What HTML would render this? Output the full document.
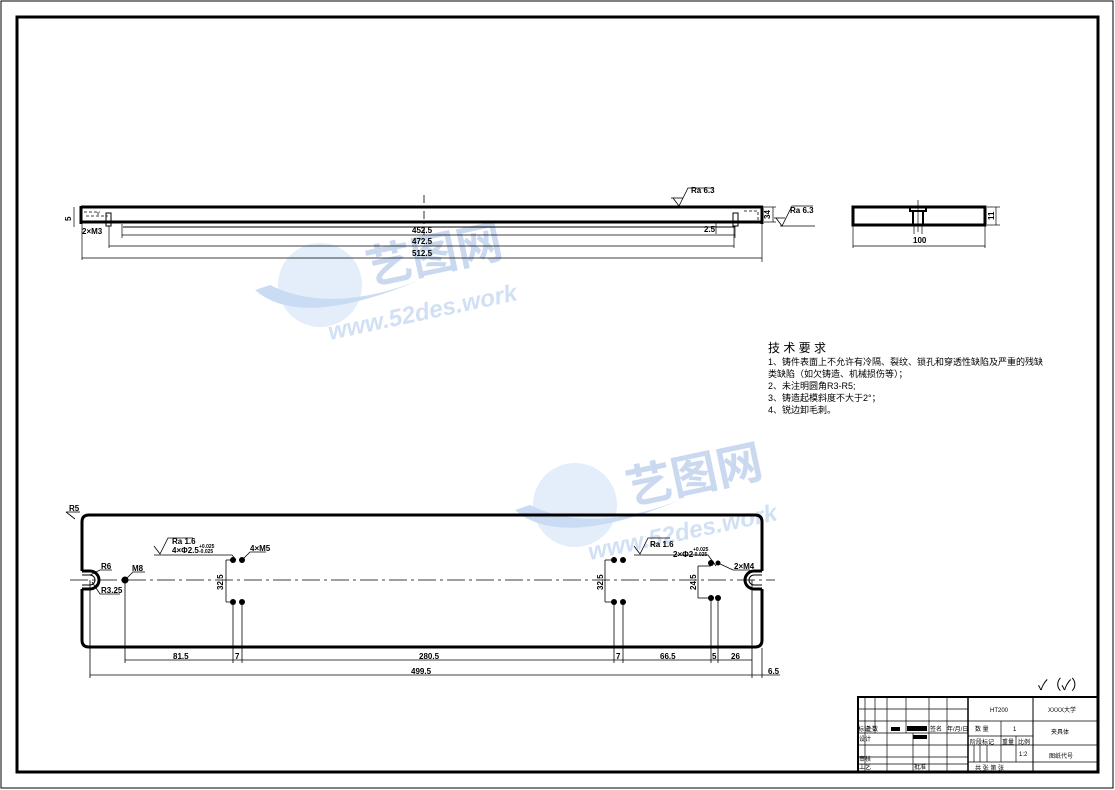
<!DOCTYPE html>
<html><head><meta charset="utf-8"><style>
html,body{margin:0;padding:0;background:#fff}
svg{display:block}
text{font-family:"Liberation Sans","Noto Sans CJK SC",sans-serif;fill:#000}
</style></head><body>
<svg width="1115" height="790" viewBox="0 0 1115 790" xmlns="http://www.w3.org/2000/svg">
<rect x="1" y="1" width="1112" height="787" fill="none" stroke="#000" stroke-width="1"/>
<rect x="17" y="17" width="1081" height="755" fill="none" stroke="#000" stroke-width="3"/>

<!-- watermarks -->
<g opacity="0.4">
<ellipse cx="320" cy="285" rx="42" ry="42" fill="#b8d4f2"/>
<path d="M255 290 Q300 330 420 280 Q330 315 270 285Z" fill="#7aa9e0"/>
<text x="370" y="285" font-size="46" font-weight="bold" style="fill:#7aa0d8" transform="rotate(-12 370 285)">艺图网</text>
<text x="330" y="340" font-size="24" font-weight="bold" font-style="italic" style="fill:#8cb2e4" transform="rotate(-12 330 340)">www.52des.work</text>
<ellipse cx="575" cy="505" rx="42" ry="42" fill="#b8d4f2"/>
<path d="M515 510 Q560 550 680 500 Q590 535 530 505Z" fill="#7aa9e0"/>
<text x="630" y="505" font-size="46" font-weight="bold" style="fill:#7aa0d8" transform="rotate(-12 630 505)">艺图网</text>
<text x="590" y="560" font-size="24" font-weight="bold" font-style="italic" style="fill:#8cb2e4" transform="rotate(-12 590 560)">www.52des.work</text>
</g>

<!-- TOP VIEW -->
<g stroke="#000" fill="none">
<line x1="81" y1="207" x2="763" y2="207" stroke-width="3"/>
<line x1="81" y1="206" x2="81" y2="224" stroke-width="3"/>
<line x1="762" y1="206" x2="762" y2="224" stroke-width="3"/>
<line x1="81" y1="222" x2="763" y2="222" stroke-width="3"/>
<line x1="123" y1="227" x2="735" y2="227" stroke-width="1"/>
<line x1="424" y1="195" x2="424" y2="238" stroke-width="0.8" stroke-dasharray="8 3 2 3"/>
<path d="M84 212 H100 M98 212 V216 M86 216 H108" stroke-width="0.8" stroke-dasharray="3 2"/>
<rect x="106" y="213" width="5" height="13" stroke-width="1"/>
<rect x="733" y="213" width="5" height="13" stroke-width="1"/>
<path d="M744 211 H758 V221 H744" stroke-width="0.8" stroke-dasharray="3 2"/>
<line x1="122" y1="235" x2="735" y2="235" stroke-width="0.7"/>
<line x1="109" y1="246" x2="734" y2="246" stroke-width="0.7"/>
<line x1="82" y1="258" x2="762" y2="258" stroke-width="0.7"/>
<line x1="122" y1="224" x2="122" y2="238" stroke-width="0.7"/>
<line x1="109" y1="226" x2="109" y2="248" stroke-width="0.7"/>
<line x1="82" y1="224" x2="82" y2="260" stroke-width="0.7"/>
<line x1="735" y1="226" x2="735" y2="238" stroke-width="0.7"/>
<line x1="734" y1="226" x2="734" y2="248" stroke-width="0.7"/>
<line x1="762" y1="224" x2="762" y2="262" stroke-width="0.7"/>
<line x1="74" y1="207" x2="74" y2="227" stroke-width="0.7"/>
<line x1="764" y1="207" x2="776" y2="207" stroke-width="0.7"/>
<line x1="764" y1="222" x2="776" y2="222" stroke-width="0.7"/>
<line x1="773" y1="207" x2="773" y2="222" stroke-width="0.7"/>
<line x1="700" y1="222" x2="718" y2="222" stroke-width="0.7"/>
<line x1="716" y1="222" x2="716" y2="234" stroke-width="0.7"/>
<path d="M673 198 L679 206 L688 188 H714" stroke-width="0.8"/>
<line x1="671" y1="198" x2="683" y2="198" stroke-width="0.8"/>
<path d="M776 218 L782 226 L792 206 H813" stroke-width="0.8"/>
<line x1="774" y1="218" x2="785" y2="218" stroke-width="0.8"/>
<line x1="780" y1="226" x2="815" y2="226" stroke-width="0.8"/>
</g>
<g font-size="8" font-weight="bold">
<text x="82" y="234">2×M3</text>
<text x="412" y="233">452.5</text>
<text x="412" y="244">472.5</text>
<text x="412" y="256">512.5</text>
<text x="704" y="232">2.5</text>
<text x="691" y="193">Ra 6.3</text>
<text x="790" y="213">Ra 6.3</text>
<text x="71" y="221" transform="rotate(-90 71 221)">5</text>
<text x="770" y="219" transform="rotate(-90 770 219)">34</text>
</g>

<!-- SIDE VIEW -->
<g stroke="#000" fill="none">
<rect x="853" y="207" width="132" height="18" stroke-width="3"/>
<rect x="910" y="207" width="16" height="4" stroke-width="2"/>
<rect x="913" y="211" width="10" height="14" stroke-width="2"/>
<line x1="918" y1="200" x2="918" y2="232" stroke-width="0.7"/>
<line x1="914" y1="226" x2="914" y2="234" stroke-width="0.7"/>
<line x1="922" y1="226" x2="922" y2="234" stroke-width="0.7"/>
<line x1="853" y1="226" x2="853" y2="248" stroke-width="0.7"/>
<line x1="985" y1="226" x2="985" y2="248" stroke-width="0.7"/>
<line x1="853" y1="246" x2="985" y2="246" stroke-width="0.7"/>
<line x1="987" y1="207" x2="1000" y2="207" stroke-width="0.7"/>
<line x1="987" y1="225" x2="1000" y2="225" stroke-width="0.7"/>
<line x1="996" y1="207" x2="996" y2="225" stroke-width="0.7"/>
</g>
<text x="913" y="243" font-size="8" font-weight="bold">100</text>
<text x="994" y="220" font-size="8" font-weight="bold" transform="rotate(-90 994 220)">11</text>

<!-- tech requirements -->
<g font-family="Liberation Sans, Noto Serif CJK SC, serif">
<text x="768" y="352" font-size="12">技 术 要 求</text>
<text x="768" y="365" font-size="9">1、铸件表面上不允许有冷隔、裂纹、锁孔和穿透性缺陷及严重的残缺</text>
<text x="768" y="377" font-size="9">类缺陷（如欠铸造、机械损伤等）；</text>
<text x="768" y="389" font-size="9">2、未注明圆角R3-R5;</text>
<text x="768" y="401" font-size="9">3、铸造起模斜度不大于2°；</text>
<text x="768" y="413" font-size="9">4、锐边卸毛刺。</text>
</g>

<!-- BOTTOM PLATE -->
<g stroke="#000" fill="none">
<path d="M89 515 H755 Q762 515 762 522 V571 M762 589 V640 Q762 647 755 647 H89 Q82 647 82 640 V589 M82 571 V522 Q82 515 89 515" stroke-width="3"/>
<path d="M82 571 H90 A9 9 0 0 1 90 589 H82" stroke-width="3"/>
<path d="M82 575 H90 A5 5 0 0 1 90 585 H82" stroke-width="1"/>
<path d="M762 571 H754 A9 9 0 0 0 754 589 H762" stroke-width="3"/>
<path d="M762 575 H754 A5 5 0 0 0 754 585 H762" stroke-width="1"/>
<line x1="70" y1="580" x2="775" y2="580" stroke-width="0.8" stroke-dasharray="18 4 3 4"/>
<g stroke-width="0.8">
<line x1="125" y1="580" x2="125" y2="663"/>
<line x1="233" y1="602" x2="233" y2="663"/>
<line x1="242" y1="602" x2="242" y2="663"/>
<line x1="614" y1="602" x2="614" y2="663"/>
<line x1="623" y1="602" x2="623" y2="663"/>
<line x1="711" y1="598" x2="711" y2="663"/>
<line x1="718" y1="598" x2="718" y2="663"/>
<line x1="752" y1="580" x2="752" y2="678"/>
<line x1="762" y1="648" x2="762" y2="678"/>
<line x1="90" y1="580" x2="90" y2="678"/>
<line x1="125" y1="660" x2="752" y2="660"/>
<line x1="90" y1="675" x2="752" y2="675"/>
<line x1="752" y1="675" x2="780" y2="675"/>
<line x1="226" y1="560" x2="226" y2="602"/>
<line x1="226" y1="560" x2="233" y2="560"/>
<line x1="226" y1="602" x2="233" y2="602"/>
<line x1="605" y1="560" x2="605" y2="602"/>
<line x1="605" y1="560" x2="614" y2="560"/>
<line x1="605" y1="602" x2="614" y2="602"/>
<line x1="698" y1="566" x2="698" y2="598"/>
<line x1="698" y1="566" x2="711" y2="566"/>
<line x1="698" y1="598" x2="711" y2="598"/>
<path d="M66 512 L75 519"/>
<path d="M66 512 H80"/>
<path d="M90 575 L100 570 H112"/>
<path d="M92 582 L100 594 H120"/>
<path d="M125 580 L133 572 H145"/>
<path d="M154 555 H232 L236 560"/>
<path d="M154 546 L160 554 L168 538 H193"/>
<path d="M242 560 L250 552 H266"/>
<path d="M634 555 H708 L716 566"/>
<path d="M634 546 L640 554 L648 538 H670"/>
<path d="M718 563 L733 570 H750"/>
</g>
</g>
<g fill="#000">
<circle cx="125" cy="580" r="3.5"/>
<circle cx="233" cy="560" r="3"/><circle cx="242" cy="560" r="3"/>
<circle cx="233" cy="602" r="3"/><circle cx="242" cy="602" r="3"/>
<circle cx="614" cy="560" r="3"/><circle cx="623" cy="560" r="3"/>
<circle cx="614" cy="602" r="3"/><circle cx="623" cy="602" r="3"/>
<circle cx="711" cy="563" r="3"/><circle cx="718" cy="563" r="2.5"/>
<circle cx="711" cy="598" r="3"/><circle cx="718" cy="598" r="3"/>
</g>
<g font-size="8" font-weight="bold">
<text x="69" y="511">R5</text>
<text x="101" y="569">R6</text>
<text x="101" y="593">R3.25</text>
<text x="132" y="571">M8</text>
<text x="172" y="544">Ra 1.6</text>
<text x="172" y="553">4×Φ2.5</text><text x="199" y="548" font-size="5">+0.025</text><text x="199" y="553" font-size="5">-0.025</text>
<text x="250" y="551">4×M5</text>
<text x="650" y="547">Ra 1.6</text>
<text x="673" y="557">2×Φ2</text><text x="693" y="551" font-size="5">+0.025</text><text x="693" y="556" font-size="5">-0.025</text>
<text x="734" y="569">2×M4</text>
<text x="173" y="659">81.5</text>
<text x="235" y="659">7</text>
<text x="419" y="659">280.5</text>
<text x="616" y="659">7</text>
<text x="660" y="659">66.5</text>
<text x="712" y="659">5</text>
<text x="731" y="659">26</text>
<text x="411" y="674">499.5</text>
<text x="768" y="674">6.5</text>
<text x="223" y="590" transform="rotate(-90 223 590)">32.5</text>
<text x="603" y="590" transform="rotate(-90 603 590)">32.5</text>
<text x="696" y="590" transform="rotate(-90 696 590)">24.5</text>
</g>
<text x="1038" y="690" font-size="14">✓（✓）</text>

<!-- TITLE BLOCK -->
<g stroke="#000" fill="none">
<rect x="858" y="697" width="240" height="75" stroke-width="2"/>
<line x1="968" y1="697" x2="968" y2="772" stroke-width="1.5"/>
<line x1="1033" y1="697" x2="1033" y2="772" stroke-width="1"/>
<g stroke-width="0.7">
<line x1="858" y1="709" x2="968" y2="709"/>
<line x1="858" y1="721" x2="1033" y2="721"/>
<line x1="858" y1="733" x2="968" y2="733"/>
<line x1="858" y1="745" x2="1098" y2="745"/>
<line x1="858" y1="757" x2="968" y2="757"/>
<line x1="858" y1="764" x2="968" y2="764"/>
<line x1="968" y1="736" x2="1033" y2="736"/>
<line x1="968" y1="762" x2="1098" y2="762"/>
<line x1="1033" y1="721" x2="1098" y2="721"/>
<line x1="865" y1="697" x2="865" y2="772"/>
<line x1="875" y1="697" x2="875" y2="733"/>
<line x1="887" y1="697" x2="887" y2="772"/>
<line x1="906" y1="697" x2="906" y2="733"/>
<line x1="913" y1="733" x2="913" y2="772"/>
<line x1="929" y1="697" x2="929" y2="772"/>
<line x1="947" y1="697" x2="947" y2="772"/>
<line x1="1001" y1="721" x2="1001" y2="745"/>
<line x1="1016" y1="736" x2="1016" y2="762"/>
<line x1="974" y1="745" x2="974" y2="762"/>
<line x1="980" y1="745" x2="980" y2="762"/>
<line x1="987" y1="745" x2="987" y2="762"/>
<line x1="1001" y1="745" x2="1001" y2="762"/>
</g>
</g>
<rect x="891" y="727" width="9" height="4" fill="#000"/>
<rect x="907" y="726" width="20" height="5" fill="#000"/>
<rect x="913" y="735" width="14" height="4" fill="#000"/>
<g font-size="6">
<text x="858" y="731">标记</text><text x="866" y="731">处数</text><text x="930" y="731">签名</text><text x="947" y="731">年/月/日</text>
<text x="859" y="741">设计</text>
<text x="859" y="761">审核</text>
<text x="859" y="769">工艺</text><text x="914" y="769">批准</text>
<text x="990" y="712">HT200</text>
<text x="1048" y="712">XXXX大学</text>
<text x="975" y="731">数 量</text><text x="1013" y="731">1</text>
<text x="1051" y="734">夹具体</text>
<text x="970" y="744">阶段标记</text><text x="1002" y="744">重量</text><text x="1018" y="744">比例</text>
<text x="1019" y="756">1:2</text>
<text x="1049" y="758">图纸代号</text>
<text x="975" y="770">共   张   第   张</text>
</g>
</svg>
</body></html>
